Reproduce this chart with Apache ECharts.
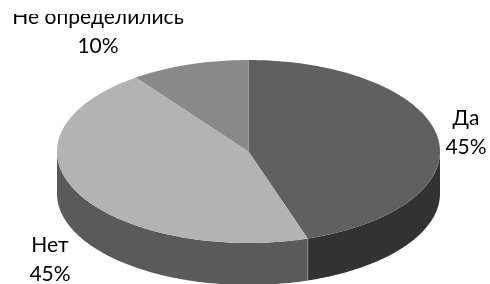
<!DOCTYPE html>
<html>
<head>
<meta charset="utf-8">
<script src="https://cdn.jsdelivr.net/npm/echarts@6/dist/echarts.min.js"></script>
<style>
  html, body { margin: 0; padding: 0; background: #fff; }
  /* top is offset so the first label gets cut off like in the original */
  #chart { position: absolute; left: 0; top: 14px; width: 490px; height: 270px; }
</style>
</head>
<body>
<div id="chart"></div>
<script>
const categories = ['Да', 'Нет', 'Не определились'];
const values = [45, 45, 10];
const topColors = ['#606060', '#b3b3b3', '#898989'];
const sideColors = ['#323232', '#5a5a5a', '#4a4a4a'];
// label centres, canvas px
const labelPos = [[466, 119], [50, 246], [98, 17.5]];

const cx = 248.5, cy = 137.5, rx = 191.5, ry = 91.5, depth = 42;
const total = values.reduce((a, b) => a + b, 0);

function pt(a, dy) {
  return [cx + rx * Math.cos(a), cy - ry * Math.sin(a) + dy];
}

function arc(a0, a1, dy) {
  const pts = [];
  const n = Math.max(2, Math.ceil(Math.abs(a1 - a0) / (Math.PI / 180)));
  for (let i = 0; i <= n; i++) {
    pts.push(pt(a0 + (a1 - a0) * i / n, dy));
  }
  return pts;
}

function renderItem(params, api) {
  const i = params.dataIndex;
  const v = api.value(0);
  let before = 0;
  for (let k = 0; k < i; k++) before += values[k];
  const a0 = Math.PI / 2 - before / total * 2 * Math.PI;
  const a1 = a0 - v / total * 2 * Math.PI;
  const children = [];

  // top face
  children.push({
    type: 'polygon',
    z2: 10,
    shape: { points: [[cx, cy]].concat(arc(a0, a1, 0)) },
    style: { fill: topColors[i] }
  });

  // outer wall, only the front half is visible
  for (let k = 0; k >= -1; k--) {
    const lo = Math.max(a1, -Math.PI + 2 * Math.PI * k);
    const hi = Math.min(a0, 2 * Math.PI * k);
    if (hi > lo) {
      children.push({
        type: 'polygon',
        z2: 1,
        shape: { points: arc(hi, lo, 0).concat(arc(lo, hi, depth)) },
        style: { fill: sideColors[i] }
      });
    }
  }

  // thin edge where two walls meet
  if (Math.sin(a0) < 0) {
    const p = pt(a0, 0);
    children.push({
      type: 'line',
      z2: 5,
      shape: { x1: p[0], y1: p[1], x2: p[0], y2: p[1] + depth },
      style: { stroke: '#8c8c8c', lineWidth: 1 }
    });
  }

  children.push({
    type: 'text',
    z2: 20,
    x: labelPos[i][0],
    y: labelPos[i][1],
    style: {
      text: categories[i] + '\n' + Math.round(v / total * 100) + '%',
      align: 'center',
      verticalAlign: 'middle',
      fontFamily: 'Lato',
      fontSize: 21,
      lineHeight: 29,
      fill: '#000'
    }
  });

  return { type: 'group', children: children };
}

const chart = echarts.init(document.getElementById('chart'));
chart.setOption({
  animation: false,
  series: [{
    type: 'custom',
    coordinateSystem: 'none',
    renderItem: renderItem,
    data: values.map(v => [v])
  }]
});
</script>
</body>
</html>
